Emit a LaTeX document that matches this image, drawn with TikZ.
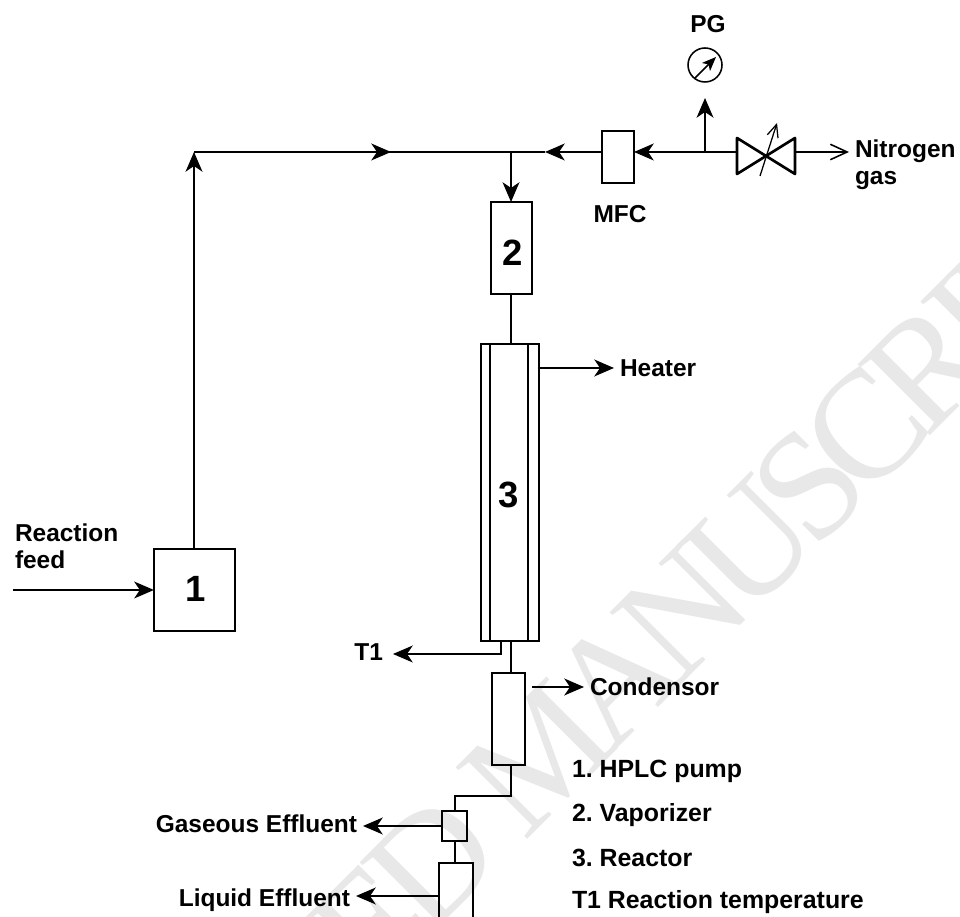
\documentclass[tikz,border=0pt]{standalone}
\usepackage{fontspec}
\setmainfont{Liberation Sans}
\newfontfamily\wmfont[LetterSpace=-10]{Liberation Serif}
\usetikzlibrary{arrows.meta, positioning, calc}
\definecolor{wmgrey}{HTML}{E8E8E8}
\tikzset{
  unitbox/.style={draw=black,line width=1.9pt,minimum size=0pt,inner sep=0pt,outer sep=0pt},
  pipe/.style={draw=black,line width=1.1pt},
  flow/.style={pipe,-{Stealth[length=14pt,width=12pt,inset=4pt]}},
  thinflow/.style={pipe,-{Straight Barb[length=12pt,width=11pt]}},
  lbl/.style={font=\bfseries\fontsize{17.4}{19.2}\selectfont,inner xsep=.15cm,inner ysep=0pt,outer sep=0pt},
  keylbl/.style={lbl,font=\bfseries\fontsize{17.7}{19.2}\selectfont,anchor=base west},
  numlbl/.style={font=\bfseries\fontsize{26}{28}\selectfont,inner sep=0pt,anchor=base},
  wmark/.style={font=\wmfont\fontsize{110}{120}\selectfont,text=wmgrey,inner sep=0pt},
}
\frenchspacing
\begin{document}
\begin{tikzpicture}
  \useasboundingbox (0,0) rectangle (24,22.9);
  \clip (0,0) rectangle (24,22.9);
  % ---- watermark goes first, everything else sits on it ----
  \node[wmark,rotate=45] (WM) at (13.485,4.01) {ACCEPTED MANUSCRIPT};
  % ---- units ----
  \node[unitbox,minimum width=2.025cm,minimum height=2.05cm] (P) at (4.86,8.15) {};
  \node[unitbox,minimum width=1.025cm,minimum height=2.3cm] (V) at (12.79,16.7) {};
  \node[unitbox,minimum width=1.45cm,minimum height=7.425cm] (R) at (12.75,10.59) {};
  \node[unitbox,minimum width=.825cm,minimum height=2.3cm] (C) at (12.7125,4.925) {};
  \node[unitbox,minimum width=.625cm,minimum height=.75cm] (S) at (11.3625,2.25) {};
  \node[unitbox,minimum width=.85cm,minimum height=2cm] (L) at (11.4,.325) {};
  \node[unitbox,minimum width=.8cm,minimum height=1.3cm] (MFC) at (15.45,18.975) {};
  \node[unitbox,line width=1.1pt,circle,minimum size=.85cm] (G) at (17.625,21.275) {};
  \node[numlbl] (n1) at (4.9,7.85) {1};
  \node[numlbl] (n2) at (12.82,16.25) {2};
  \node[numlbl] (n3) at (12.72,10.2) {3};
  % reactor jacket
  \draw[pipe] ($(R.north west)+(.225,0)$) -- ($(R.south west)+(.225,0)$);
  \draw[pipe] ($(R.north east)+(-.275,0)$) -- ($(R.south east)+(-.275,0)$);
  % ---- labels ----
  \node[lbl,anchor=north west,align=left] (feedlbl) at (.225,9.8) {Reaction\\feed};
  \node[lbl,anchor=north west,align=left] (N2lbl) at (21.225,19.4) {Nitrogen\\gas};
  \node[lbl,anchor=base] (PGlbl) at (17.7,22.075) {PG};
  \node[lbl,anchor=base] (MFClbl) at (15.5,17.325) {MFC};
  \node[lbl,anchor=base west] (Hlbl) at (15.35,13.475) {Heater};
  \node[lbl,anchor=base west] (Clbl) at (14.6,5.5) {Condensor};
  \node[lbl,anchor=base east,inner xsep=.25cm] (T1lbl) at (9.825,6.375) {T1};
  \node[lbl,anchor=base east] (Glbl) at (9.075,2.075) {Gaseous Effluent};
  \node[lbl,anchor=base east] (Llbl) at (8.9,.25) {Liquid Effluent};
  \node[keylbl] (k1) at (14.15,3.45) {1. HPLC pump};
  \node[keylbl] (k2) at (14.15,2.35) {2. Vaporizer};
  \node[keylbl] (k3) at (14.15,1.25) {3. Reactor};
  \node[keylbl] (k4) at (14.15,.2) {T1 Reaction temperature};
  % ---- junctions and free ends ----
  \coordinate (corner) at (4.85,19.1);
  \coordinate (A1) at (9.775,19.1);
  \coordinate (A2) at (13.625,19.1);
  \coordinate (J2) at (12.775,19.1);
  \coordinate (J1) at (17.625,19.1);
  \coordinate (VL) at (18.425,19.1);
  \coordinate (VR) at (19.9,19.1);
  \coordinate (NV) at (19.15,19);
  \coordinate (feedin) at (.325,8.15);
  \coordinate (Hb) at (13.475,13.7);
  \coordinate (Cb) at (13.3,5.725);
  \coordinate (T1b) at (12.525,6.55);
  \coordinate (Lb) at (10.975,.5);
  \coordinate (bendA) at (12.775,3);
  \coordinate (bendB) at (11.375,3);
  % ---- feed line ----
  \draw[flow] (feedin) -- (P.west);
  \draw[flow] (P.north -| corner) -- (corner);
  \draw[pipe] (corner) -- (A2);
  \draw[flow] (corner) -- (A1);
  \draw[flow] (MFC.west |- corner) -- (A2);
  \draw[flow] (J2) -- (J2 |- V.north);
  % ---- nitrogen side ----
  \draw[flow] (VL) -- (MFC.east |- VL);
  \draw[flow] (J1) -- (17.625,20.45);
  \draw[thinflow] (VR) -- (VR -| N2lbl.west);
  \draw[unitbox,line join=round] ($(NV)+(-.725,.45)$) -- ($(NV)+(.725,-.45)$)
    -- ($(NV)+(.725,.45)$) -- ($(NV)+(-.725,-.45)$) -- cycle;
  \draw[pipe,line width=.9pt,-{Straight Barb[length=9pt,width=8pt]}] ($(NV)+(-.15,-.5)$) -- ($(NV)+(.275,.825)$);
  \draw[pipe,-{Stealth[length=10pt,width=8pt,inset=2.5pt]}] ($(G.center)+(-.25,-.325)$) -- ($(G.center)+(.275,.2)$);
  % ---- column ----
  \draw[pipe] (J2 |- V.south) -- (J2 |- R.north);
  \draw[flow] (Hb) -- (Hb -| Hlbl.west);
  \draw[flow] (T1b |- R.south) -- (T1b) -- (T1b -| T1lbl.east);
  \draw[pipe] (J2 |- R.south) -- (J2 |- C.north);
  \draw[flow] (Cb) -- (Cb -| Clbl.west);
  \draw[pipe] (J2 |- C.south) -- (bendA) -- (bendB) -- (bendB |- S.north);
  \draw[flow] (S.west) -- (S.west -| Glbl.east);
  \draw[pipe] (bendB |- S.south) -- (bendB |- L.north);
  \draw[flow] (Lb) -- (Lb -| Llbl.east);
\end{tikzpicture}
\end{document}
